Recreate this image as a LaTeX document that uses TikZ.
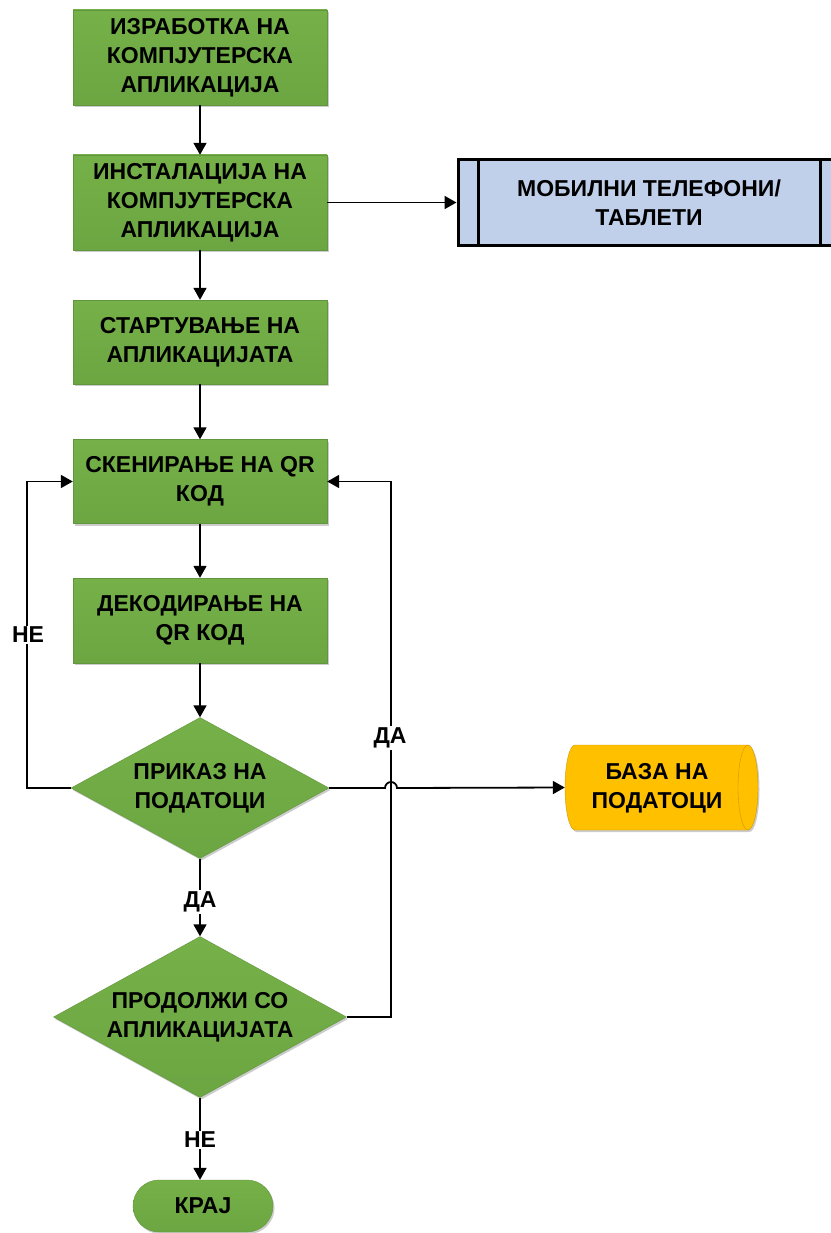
\documentclass[tikz,border=0pt]{standalone}
\usepackage{fontspec}
\setmainfont{Liberation Sans}
\usetikzlibrary{arrows.meta,shapes.geometric,shadows,calc}
\definecolor{gtop}{RGB}{117,176,72}
\definecolor{gbot}{RGB}{108,166,66}
\definecolor{gdraw}{RGB}{98,150,62}
\definecolor{bfill}{RGB}{192,208,235}
\definecolor{yfill}{RGB}{255,192,0}
\definecolor{ydraw}{RGB}{205,152,0}
\newcommand\flowfont{\fontsize{23}{29}\selectfont\bfseries}
\begin{document}
\begin{tikzpicture}[x=1pt,y=-1pt,
  shd/.style={drop shadow={shadow xshift=1.5pt,shadow yshift=-2pt,opacity=0.2,fill=black}},
  gshade/.style={top color=gtop,bottom color=gbot},
  proc/.style={shd,draw=gdraw,gshade,minimum width=254pt,inner sep=0pt,align=center,font=\flowfont},
  dia/.style={shd,diamond,draw=gdraw,gshade,inner sep=0pt},
  txt/.style={align=center,font=\flowfont,inner sep=0pt},
  lab/.style={fill=white,inner sep=1.5pt,font=\flowfont},
  arr/.style={line width=1.8pt,-{Triangle[length=12pt,width=13pt]}}]
\useasboundingbox (0,0) rectangle (830,1233);
\fill[white] (0,0) rectangle (830,1233);

\node[proc,minimum height=95pt] (b1) at (200,57.5) {ИЗРАБОТКА НА\\КОМПЈУТЕРСКА\\АПЛИКАЦИЈА};
\node[proc,minimum height=95pt] (b2) at (200,202.5) {ИНСТАЛАЦИЈА НА\\КОМПЈУТЕРСКА\\АПЛИКАЦИЈА};
\node[proc,minimum height=84pt] (b3) at (200,342) {СТАРТУВАЊЕ НА\\АПЛИКАЦИЈАТА};
\node[proc,minimum height=84pt] (b4) at (200,481.5) {СКЕНИРАЊЕ НА QR\\КОД};
\node[proc,minimum height=85pt] (b5) at (200,620.5) {ДЕКОДИРАЊЕ НА\\QR КОД};

\node[dia,minimum width=258pt,minimum height=141pt] (d1) at (200,788) {};
\node[txt] (d1t) at (d1.center) {ПРИКАЗ НА\\ПОДАТОЦИ};
\node[dia,minimum width=293pt,minimum height=161pt] (d2) at (200,1017) {};
\node[txt] (d2t) at (d2.center) {ПРОДОЛЖИ СО\\АПЛИКАЦИЈАТА};

\node[shd,draw=gdraw,gshade,minimum width=140pt,minimum height=52pt,rounded corners=26pt,font=\flowfont] (end) at (203,1206) {КРАЈ};

% mobile devices (predefined process)
\node[draw=black,line width=3pt,fill=bfill,minimum width=382pt,minimum height=86pt,align=center,font=\flowfont,inner sep=0pt] (mob) at (649,202.5) {МОБИЛНИ ТЕЛЕФОНИ/\\ТАБЛЕТИ};
\draw[line width=3pt] (478,159.5) -- (478,245.5);
\draw[line width=3pt] (820,159.5) -- (820,245.5);

% database cylinder
\node[minimum width=193pt,minimum height=85pt,inner sep=0pt] (db) at (661.5,787.5) {};
\draw[shd,draw=ydraw,fill=yfill] (575,745) -- (748,745) arc[start angle=-90,end angle=90,x radius=10,y radius=42.5] -- (575,830) arc[start angle=90,end angle=270,x radius=10,y radius=42.5] -- cycle;
\draw[draw=ydraw] (748,745) arc[start angle=-90,end angle=-270,x radius=10,y radius=42.5];
\node[txt] (dbt) at (657,788) {БАЗА НА\\ПОДАТОЦИ};

% connectors
\draw[arr] (b1.south) -- (b2.north);
\draw[arr] (b2.south) -- (b3.north);
\draw[arr] (b3.south) -- (b4.north);
\draw[arr] (b4.south) -- (b5.north);
\draw[arr] (b5.south) -- (d1.north);
\draw[arr] (b2.east) -- (mob.west);
\draw[arr] (d1.east) -- (385,788) arc[start angle=180,end angle=360,radius=6] -- (db.west);
\draw[arr] (d1.west) -- (27,788) -- (27,481.5) -- (b4.west);
\draw[arr] (d2.east) -- (391,1017) -- (391,481.5) -- (b4.east);
\draw[arr] (d1.south) -- (d2.north);
\draw[arr] (d2.south) -- (d2.south |- end.north);

% labels
\node[lab] (l1) at (28,635) {НЕ};
\node[lab] (l2) at (390,738) {ДА};
\node[lab] (l3) at (200,902) {ДА};
\node[lab] (l4) at (200,1140) {НЕ};
\end{tikzpicture}
\end{document}
